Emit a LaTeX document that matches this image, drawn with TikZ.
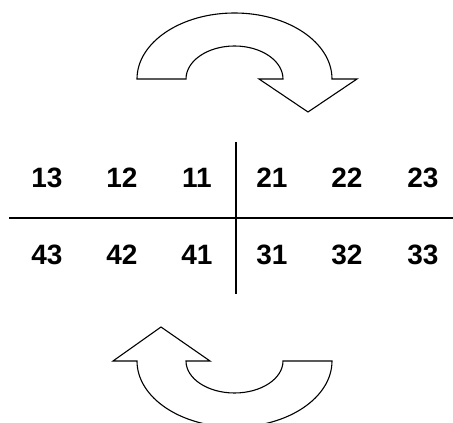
\documentclass[tikz,border=0pt]{standalone}
\usepackage{fontspec}
\setmainfont{Liberation Sans}
\usepackage{tikz}

\begin{document}
\begin{tikzpicture}[x=1pt, y=1pt,
  num/.style={font=\fontsize{28}{28}\selectfont\bfseries, inner sep=0pt},
  bent/.style={draw, line width=1.1pt, line join=miter, fill=white},
  rule/.style={line width=1.8pt}]
\useasboundingbox (0,0) rectangle (453,423);
\clip (0,0) rectangle (453,423);
% upper turning arrow
\draw[bent] (137,344) arc[start angle=180, end angle=0, x radius=97.5, y radius=66]
  -- (357,344) -- (308,311) -- (259,344) -- (283,344)
  arc[start angle=0, end angle=180, x radius=48.5, y radius=33] -- cycle;
% lower turning arrow
\draw[bent] (332,62) arc[start angle=0, end angle=-180, x radius=97.5, y radius=66]
  -- (113,62) -- (161,96) -- (210,62) -- (186,62)
  arc[start angle=180, end angle=360, x radius=48.5, y radius=32] -- cycle;
% axes
\coordinate (left) at (9,205);
\coordinate (right) at (453,205);
\coordinate (top) at (236,281);
\coordinate (bottom) at (236,129);
\draw[rule] (left) -- (right);
\draw[rule] (top) -- (bottom);
% numbers
\foreach \lab/\x in {13/47, 12/122, 11/197, 21/272, 22/347, 23/423}
  \node[num] (n\lab) at (\x,245) {\lab};
\foreach \lab/\x in {43/47, 42/122, 41/197, 31/272, 32/347, 33/423}
  \node[num] (n\lab) at (\x,168) {\lab};
\end{tikzpicture}
\end{document}
